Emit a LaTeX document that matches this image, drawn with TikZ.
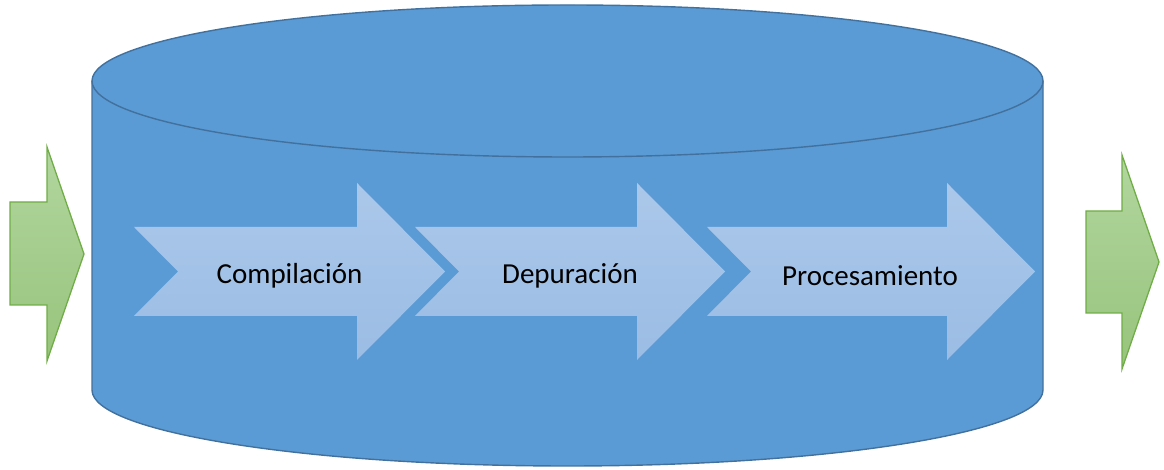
\documentclass[tikz,border=0pt]{standalone}
\usepackage{xcolor}
\usepackage{fontspec}
\setmainfont{Carlito}
\usepackage{tikz}
\usetikzlibrary{positioning}
\definecolor{drum}{HTML}{5B9BD5}
\definecolor{drumline}{HTML}{41719C}
\definecolor{stagetop}{HTML}{ABC8EA}
\definecolor{stagebot}{HTML}{9BBCE4}
\definecolor{flowtop}{HTML}{B2D69F}
\definecolor{flowbot}{HTML}{97C47C}
\definecolor{flowline}{HTML}{70AD47}

\begin{document}
\begin{tikzpicture}[x=1pt,y=1pt,
    drum/.style={fill=drum,draw=drumline,line width=1.4pt,line join=round},
    stage/.style={top color=stagetop,bottom color=stagebot,draw=none},
    flow/.style={top color=flowtop,bottom color=flowbot,draw=flowline,line width=1.3pt,line join=miter},
    label/.style={font=\fontsize{29}{33}\selectfont,text=black}]
    \useasboundingbox (0,0) rectangle (1164,470);
    % cylinder
    \path[drum] (92,389) -- (92,80) arc[start angle=180,end angle=360,x radius=475.5,y radius=76] -- (1043,389) -- cycle;
    \path[drum] (567.5,389) ellipse[x radius=475.5,y radius=76];
    % incoming and outgoing arrows
    \path[flow] (10,268) -- (47,268) -- (47,323) -- (84,216) -- (47,109) -- (47,165) -- (10,165) -- cycle;
    \path[flow] (1086,259) -- (1122,259) -- (1122,315) -- (1159,208) -- (1122,101) -- (1122,157) -- (1086,157) -- cycle;
    % stages
    \path[stage] (134,243) -- (357,243) -- (357,287) -- (445,198.5) -- (357,110) -- (357,154) -- (134,154) -- (178,198.5) -- cycle;
    \path[stage] (415,243) -- (637,243) -- (637,287) -- (725,198.5) -- (637,110) -- (637,154) -- (415,154) -- (459,198.5) -- cycle;
    \path[stage] (707,243) -- (947,243) -- (947,287) -- (1035,198.5) -- (947,110) -- (947,154) -- (707,154) -- (751,198.5) -- cycle;
    \node[label] (comp) at (289.5,194) {Compilación};
    \node[label] (dep) at (570,194) {Depuración};
    \node[label] (proc) at (870,194) {Procesamiento};
  \end{tikzpicture}
\end{document}
